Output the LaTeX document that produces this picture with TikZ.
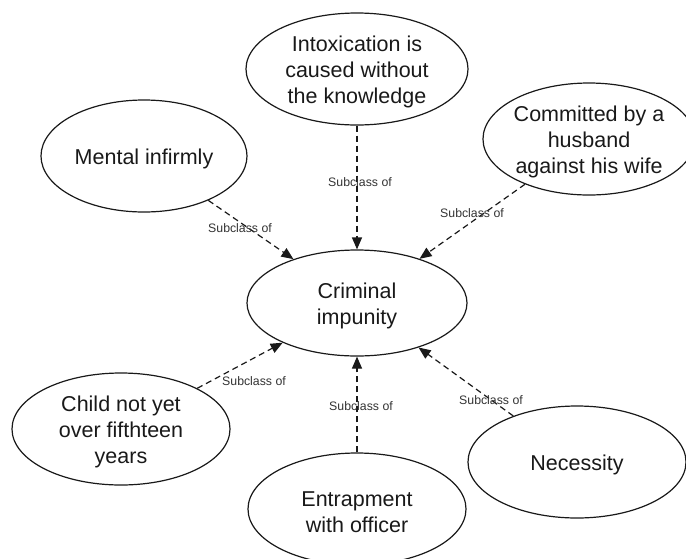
\documentclass[tikz,border=0pt]{standalone}
\usepackage{fontspec}
\setmainfont{Liberation Sans}
\usetikzlibrary{shapes.geometric,arrows.meta}
\begin{document}
\begin{tikzpicture}[x=1pt,y=-1pt,
  bubble/.style={draw=black!90, ellipse, line width=1.2pt, inner sep=0pt},
  txt/.style={align=center, text=black!90, yshift=-3pt, font=\fontsize{21.5}{26}\selectfont},
  lbl/.style={text=black!80, font=\fontsize{12.3}{14}\selectfont},
  rel/.style={draw=black!90, line width=1.2pt, dash pattern=on 6pt off 4pt,
    -{Triangle[length=12pt,width=10pt]}}]
\useasboundingbox (0,0) rectangle (686,558);

% concepts
\node[bubble, minimum width=220pt, minimum height=106pt] (crim) at (357,303) {};
\node[txt] at (crim) {Criminal\\impunity};

\node[bubble, minimum width=222pt, minimum height=112pt] (intox) at (357,69) {};
\node[txt] at (intox) {Intoxication is\\caused without\\the knowledge};

\node[bubble, minimum width=206pt, minimum height=112pt] (mental) at (144,156) {};
\node[txt] at (mental) {Mental infirmly};

\node[bubble, minimum width=212pt, minimum height=112pt] (husb) at (589,139) {};
\node[txt] at (husb) {Committed by a\\husband\\against his wife};

\node[bubble, minimum width=218pt, minimum height=112pt] (child) at (121,429) {};
\node[txt] at (child) {Child not yet\\over fifthteen\\years};

\node[bubble, minimum width=218pt, minimum height=112pt] (entrap) at (357,509) {};
\node[txt] at (entrap) {Entrapment\\with officer};

\node[bubble, minimum width=218pt, minimum height=112pt] (nec) at (577,462) {};
\node[txt] at (nec) {Necessity};

% subclass relations
\draw[rel] (mental) -- (crim);
\draw[rel] (intox) -- (crim);
\draw[rel] (husb) -- (crim);
\draw[rel] (child) -- (crim);
\draw[rel] (entrap) -- (crim);
\draw[rel] (nec) -- (crim);

% relation labels
\node[lbl] (l1) at (240,228) {Subclass of};
\node[lbl] (l2) at (360,182) {Subclass of};
\node[lbl] (l3) at (472,213) {Subclass of};
\node[lbl] (l4) at (254,381) {Subclass of};
\node[lbl] (l5) at (361,406) {Subclass of};
\node[lbl] (l6) at (491,400) {Subclass of};
\end{tikzpicture}
\end{document}
